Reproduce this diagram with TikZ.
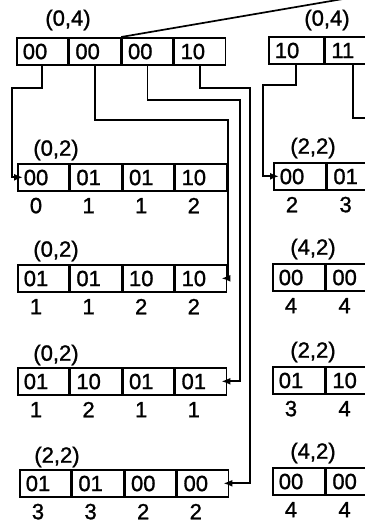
\documentclass[tikz,border=0pt]{standalone}
\usepackage{fontspec}
\setmainfont{Liberation Sans}[FakeBold=1.2]
\usetikzlibrary{arrows.meta}
\begin{document}
\begin{tikzpicture}[x=1pt,y=-1pt,
  cell/.style={draw, line width=1.6pt, minimum height=27pt, text width=39pt, align=left,
    inner xsep=6pt, inner ysep=0pt, text height=15.6pt, text depth=0pt, anchor=north west,
    font=\fontsize{22}{22}\selectfont},
  wcell/.style={cell, text width=40pt},
  rcell/.style={cell, text width=43pt},
  num/.style={inner sep=0pt, font=\fontsize{22}{22}\selectfont},
  lab/.style={inner sep=0pt, font=\fontsize{22}{22}\selectfont},
  conn/.style={line width=1.7pt},
  arr/.style={conn, -{Latex[length=9pt,width=7pt]}}]
\useasboundingbox (0,0) rectangle (364,527);
% left column boxes
\foreach \r/\x/\y/\a/\b/\c/\d in {T/16/37/00/00/00/10, A/17/163/00/01/01/10, B/17/264/01/01/10/10, C/17/367/01/10/01/01, D/19/469/01/01/00/00} {
  \node[cell] (\r1) at (\x,\y) {\a};
  \node[cell] (\r2) at (\r1.north east) {\b};
  \node[cell] (\r3) at (\r2.north east) {\c};
  \node[cell] (\r4) at (\r3.north east) {\d};
}
\foreach \r/\n/\m/\o/\p in {A/0/1/1/2, B/1/1/2/2, C/1/2/1/1, D/3/3/2/2} {
  \node[num] (\r1n) at ([xshift=19pt,yshift=-14pt]\r1.south west) {\n};
  \node[num] (\r2n) at ([xshift=19pt,yshift=-14pt]\r2.south west) {\m};
  \node[num] (\r3n) at ([xshift=19pt,yshift=-14pt]\r3.south west) {\o};
  \node[num] (\r4n) at ([xshift=19pt,yshift=-14pt]\r4.south west) {\p};
}
% right column boxes
\node[rcell] (U1) at (268,36) {10};
\node[rcell] (U2) at (U1.north east) {11};
\foreach \r/\x/\y/\a/\b/\n/\m in {E/273/162/00/01/2/3, F/272/263/00/00/4/4, G/272/366/01/10/3/4, H/272/467/00/00/4/4} {
  \node[wcell] (\r1) at (\x,\y) {\a};
  \node[wcell] (\r2) at (\r1.north east) {\b};
  \node[num] (\r1n) at ([xshift=19pt,yshift=-14pt]\r1.south west) {\n};
  \node[num] (\r2n) at ([xshift=19pt,yshift=-14pt]\r2.south west) {\m};
}
% labels
\node[lab] (Tl) at (68,20) {(0,4)};
\node[lab] (Ul) at (327,20) {(0,4)};
\node[lab] (Al) at (56,150) {(0,2)};
\node[lab] (Bl) at (56,251) {(0,2)};
\node[lab] (Cl) at (56,355) {(0,2)};
\node[lab] (Dl) at (57,457) {(2,2)};
\node[lab] (El) at (313,148) {(2,2)};
\node[lab] (Fl) at (313,249) {(4,2)};
\node[lab] (Gl) at (313,352) {(2,2)};
\node[lab] (Hl) at (313,453) {(4,2)};
% connector points
\coordinate (j1) at (12,88);
\coordinate (j2) at (228,120);
\coordinate (j3) at (240,100);
\coordinate (j4) at (250,88);
\coordinate (j5) at (263,85);
\coordinate (j6) at (372,118);
\coordinate (off) at (372,-6);
\coordinate (A1in) at ([xshift=6pt]A1.west);
\coordinate (B4in) at ([xshift=-6pt]B4.east);
\coordinate (C4in) at ([xshift=-6pt]C4.east);
\coordinate (D4in) at ([xshift=-6pt]D4.east);
\coordinate (E1in) at ([xshift=6pt]E1.west);
% connectors
\draw[arr] (T1.south) |- (j1) |- (A1in);
\draw[arr] (T2.south) |- (j2) |- (B4in);
\draw[arr] (T3.south) |- (j3) |- (C4in);
\draw[arr] (T4.south) |- (j4) |- (D4in);
\draw[arr] (U1.south) |- (j5) |- (E1in);
\draw[conn] (U2.south) |- (j6);
\draw[conn] (T2.north east) -- (off);
\end{tikzpicture}
\end{document}
